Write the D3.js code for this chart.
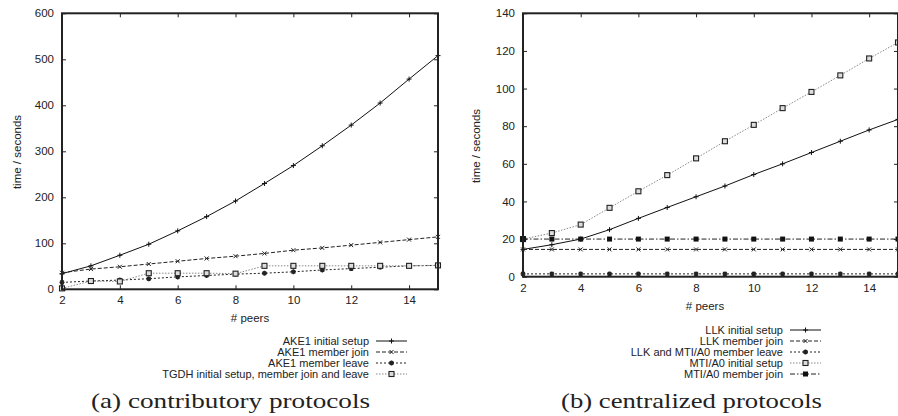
<!DOCTYPE html>
<html>
<head>
<meta charset="utf-8">
<script src="https://cdn.jsdelivr.net/npm/d3@7"></script>
<style>
  body { margin: 0; background: #fff; }
  svg { display: block; font-family: "Liberation Sans", Arial, sans-serif; }
</style>
</head>
<body>
<svg id="chart" width="898" height="416"></svg>
<script>
// peers on the x axis
const peers = [2, 3, 4, 5, 6, 7, 8, 9, 10, 11, 12, 13, 14, 15];
const xTicks = [2, 4, 6, 8, 10, 12, 14];

// (a) contributory protocols
const ake1Setup = [34, 51, 74, 98, 127, 158, 192, 230, 269, 312, 357, 405, 457, 508];
const ake1Join = [36, 44, 49, 55, 61, 67, 72, 78, 85, 90, 96, 102, 108, 114];
const ake1Leave = [15, 18, 20, 23, 27, 30, 33, 35, 38, 42, 45, 48, 51, 52];
const tgdh = [2, 18, 17, 35, 35, 35, 34, 51, 51, 51, 51, 51, 51, 52];
const yTicksA = [0, 100, 200, 300, 400, 500, 600];

// (b) centralized protocols
const llkSetup = [14.5, 17, 20, 25, 31, 36.8, 42.5, 48.2, 54.3, 60, 66, 72, 78, 83.6];
const llkJoin = [14.5, 14.5, 14.5, 14.5, 14.5, 14.5, 14.5, 14.5, 14.5, 14.5, 14.5, 14.5, 14.5, 14.5];
const llkLeave = [1.5, 1.5, 1.5, 1.5, 1.5, 1.5, 1.5, 1.5, 1.5, 1.5, 1.5, 1.5, 1.5, 1.5];
const mtiSetup = [20, 23.2, 27.7, 36.6, 45.4, 54, 62.9, 72, 80.7, 89.6, 98.2, 107, 116, 124.5];
const mtiJoin = [20, 20, 20, 20, 20, 20, 20, 20, 20, 20, 20, 20, 20, 20];
const yTicksB = [0, 20, 40, 60, 80, 100, 120, 140];

// gnuplot-ish line types
const styles = {
  lt1: { dash: null, color: '#111', marker: 'plus' },
  lt2: { dash: '4,2', color: '#222', marker: 'cross' },
  lt3: { dash: '2,2', color: '#222', marker: 'star' },
  lt4: { dash: '1.5,1.5', color: '#888', marker: 'box' },
  lt5: { dash: '5,2,1.5,2', color: '#222', marker: 'fbox' }
};

const markerPath = {
  plus: 'M-2.5,0H2.5M0,-2.5V2.5',
  cross: 'M-2,-2L2,2M-2,2L2,-2',
  star: 'M-2.5,0H2.5M0,-2.5V2.5M-1.8,-1.8L1.8,1.8M-1.8,1.8L1.8,-1.8'
};

const svg = d3.select('#chart');
const FS = 11.5;   // ticks and axis titles
const LFS = 11;    // legend

function drawMarker(g, type, cx, cy, color) {
  if (type === 'box') {
    g.append('rect').attr('x', cx - 2.5).attr('y', cy - 2.5).attr('width', 5).attr('height', 5)
      .attr('fill', '#ddd').attr('stroke', '#222').attr('stroke-width', 1.1);
  } else if (type === 'fbox') {
    g.append('rect').attr('x', cx - 2.5).attr('y', cy - 2.5).attr('width', 5).attr('height', 5)
      .attr('fill', '#111');
  } else {
    g.append('path').attr('transform', `translate(${cx},${cy})`).attr('d', markerPath[type])
      .attr('fill', 'none').attr('stroke', color).attr('stroke-width', type === 'star' ? 1.4 : 1);
  }
}

function panel(cfg) {
  const x = d3.scaleLinear().domain([2, 15]).range([cfg.left, cfg.right]);
  const y = d3.scaleLinear().domain([0, cfg.yMax]).range([cfg.bottom, cfg.top]);
  const g = svg.append('g');

  // series
  const line = d3.line().x((d, i) => x(peers[i])).y(d => y(d));
  cfg.series.forEach(s => {
    const st = styles[s.style];
    g.append('path').datum(s.values).attr('d', line)
      .attr('fill', 'none').attr('stroke', st.color).attr('stroke-width', 1)
      .attr('stroke-dasharray', st.dash);
    s.values.forEach((v, i) => drawMarker(g, st.marker, x(peers[i]), y(v), st.color));
  });

  // axes (ticks inward, mirrored like gnuplot)
  const tl = 4;
  const axB = g.append('g').attr('transform', `translate(0,${cfg.bottom})`)
    .call(d3.axisBottom(x).tickValues(xTicks).tickSizeInner(-tl).tickSizeOuter(0).tickPadding(8));
  const axT = g.append('g').attr('transform', `translate(0,${cfg.top})`)
    .call(d3.axisTop(x).tickValues(xTicks).tickSizeInner(-tl).tickSizeOuter(0).tickFormat(''));
  const axL = g.append('g').attr('transform', `translate(${cfg.left},0)`)
    .call(d3.axisLeft(y).tickValues(cfg.yTicks).tickSizeInner(-tl).tickSizeOuter(0).tickPadding(8));
  const axR = g.append('g').attr('transform', `translate(${cfg.right},0)`)
    .call(d3.axisRight(y).tickValues(cfg.yTicks).tickSizeInner(-tl).tickSizeOuter(0).tickFormat(''));
  [axB, axT, axL, axR].forEach(a => {
    a.select('.domain').remove();
    a.selectAll('line').attr('stroke', '#222');
    a.selectAll('text').attr('font-size', FS).attr('fill', '#222')
      .attr('font-family', '"Liberation Sans", Arial, sans-serif');
  });
  axB.selectAll('text').attr('dy', '0.71em').attr('y', 7);

  g.append('rect').attr('x', cfg.left).attr('y', cfg.top)
    .attr('width', cfg.right - cfg.left).attr('height', cfg.bottom - cfg.top)
    .attr('fill', 'none').attr('stroke', '#222').attr('stroke-width', 2);

  // axis titles
  g.append('text').attr('x', cfg.xTitleX)
    .attr('y', cfg.bottom + 33).attr('text-anchor', 'middle').attr('font-size', FS)
    .attr('fill', '#222').text('# peers');
  g.append('text').attr('transform', `translate(${cfg.yTitleX},${cfg.yTitleY}) rotate(-90)`)
    .attr('text-anchor', 'middle').attr('dy', '0.35em').attr('font-size', FS).attr('fill', '#222')
    .text('time / seconds');

  // legend
  cfg.series.forEach((s, i) => {
    const st = styles[s.style];
    const ly = cfg.legendY + i * 11;
    g.append('text').attr('x', cfg.legendX).attr('y', ly).attr('dy', '0.35em')
      .attr('text-anchor', 'end').attr('font-size', LFS).attr('fill', '#222').text(s.name);
    g.append('line').attr('x1', cfg.legendX + 7).attr('x2', cfg.legendX + 38)
      .attr('y1', ly).attr('y2', ly).attr('stroke', st.color).attr('stroke-width', 1)
      .attr('stroke-dasharray', st.dash);
    drawMarker(g, st.marker, cfg.legendX + 22.5, ly, st.color);
  });

  // caption
  g.append('text').attr('x', cfg.captionX).attr('y', 408).attr('text-anchor', 'middle')
    .attr('font-family', '"Liberation Serif", "DejaVu Serif", serif').attr('font-size', 21)
    .attr('fill', '#222').attr('textLength', cfg.captionW).attr('lengthAdjust', 'spacingAndGlyphs')
    .text(cfg.caption);
}

panel({
  left: 62, right: 438, top: 13.3, bottom: 289.3, yMax: 600, yTicks: yTicksA,
  xTitleX: 250, yTitleX: 17, yTitleY: 152,
  legendX: 369, legendY: 341, captionX: 230.5, captionW: 279,
  caption: '(a) contributory protocols',
  series: [
    { name: 'AKE1 initial setup', style: 'lt1', values: ake1Setup },
    { name: 'AKE1 member join', style: 'lt2', values: ake1Join },
    { name: 'AKE1 member leave', style: 'lt3', values: ake1Leave },
    { name: 'TGDH initial setup, member join and leave', style: 'lt4', values: tgdh }
  ]
});

panel({
  left: 523, right: 898, top: 13.3, bottom: 276.7, yMax: 140, yTicks: yTicksB,
  xTitleX: 705, yTitleX: 476, yTitleY: 146,
  legendX: 783, legendY: 330, captionX: 691.5, captionW: 261,
  caption: '(b) centralized protocols',
  series: [
    { name: 'LLK initial setup', style: 'lt1', values: llkSetup },
    { name: 'LLK member join', style: 'lt2', values: llkJoin },
    { name: 'LLK and MTI/A0 member leave', style: 'lt3', values: llkLeave },
    { name: 'MTI/A0 initial setup', style: 'lt4', values: mtiSetup },
    { name: 'MTI/A0 member join', style: 'lt5', values: mtiJoin }
  ]
});
</script>
</body>
</html>
